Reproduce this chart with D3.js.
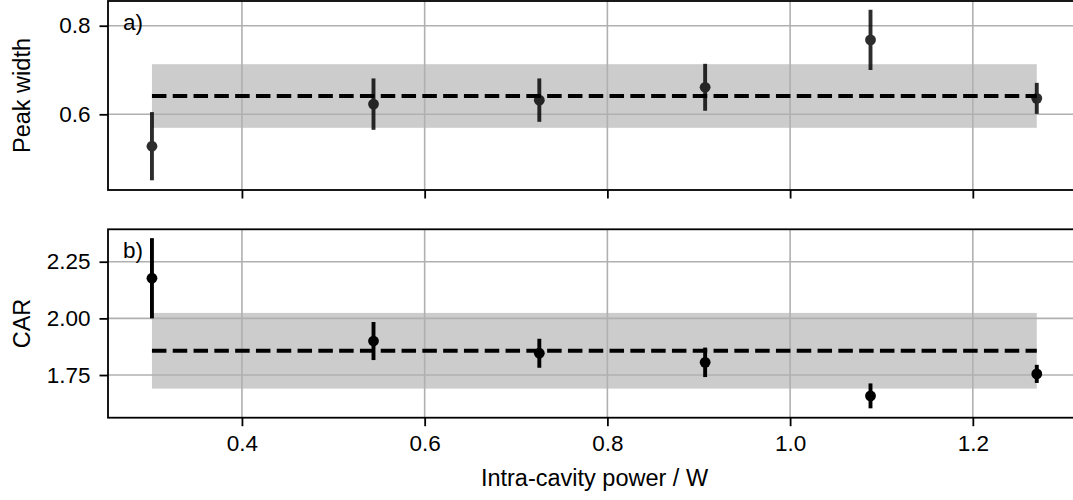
<!DOCTYPE html>
<html>
<head>
<meta charset="utf-8">
<script src="https://cdn.jsdelivr.net/npm/d3@7"></script>
<style>
  html, body { margin: 0; padding: 0; background: #fff; }
  svg { display: block; font-family: "Liberation Sans", Arial, Helvetica, sans-serif; }
</style>
</head>
<body>
<svg id="chart" width="1073" height="500"></svg>
<script>
// Measured intra-cavity power (W) for each run
const power = [0.3015, 0.544, 0.7255, 0.907, 1.088, 1.27];

// Panel a): fitted peak width with uncertainty
const peakWidth = [0.528, 0.623, 0.632, 0.661, 0.768, 0.636];
const peakWidthErr = [0.077, 0.058, 0.049, 0.053, 0.068, 0.035];
const peakWidthMean = 0.6413;
const peakWidthSpread = 0.0718;

// Panel b): coincidence-to-accidental ratio with uncertainty
const car = [2.177, 1.900, 1.846, 1.806, 1.658, 1.755];
const carErr = [0.177, 0.084, 0.064, 0.065, 0.055, 0.040];
const carMean = 1.857;
const carSpread = 0.167;

// Axis ticks and labels
const xTicks = [0.4, 0.6, 0.8, 1.0, 1.2];
const peakTicks = [0.6, 0.8];
const carTicks = [1.75, 2.00, 2.25];
const xLabel = "Intra-cavity power / W";

const svg = d3.select("#chart");
const left = 108, right = 1081;

const x = d3.scaleLinear().domain([0.2534, 1.3184]).range([left, right]);

const panels = [
  {
    top: 1, bottom: 190, domain: [0.4291, 0.8558],
    values: peakWidth, errs: peakWidthErr, mean: peakWidthMean, spread: peakWidthSpread,
    ticks: peakTicks, fmt: d3.format(".1f"), ylabel: "Peak width", tag: "a)",
    color: "#000", opacity: 0.82, xLabels: false
  },
  {
    top: 229.3, bottom: 417.7, domain: [1.5617, 2.393],
    values: car, errs: carErr, mean: carMean, spread: carSpread,
    ticks: carTicks, fmt: d3.format(".2f"), ylabel: "CAR", tag: "b)",
    color: "#000", opacity: 1, xLabels: true
  }
];

const fontSize = 22.5;

panels.forEach(p => {
  const y = d3.scaleLinear().domain(p.domain).range([p.bottom, p.top]);
  const g = svg.append("g");

  // spread band around the mean
  g.append("rect")
    .attr("x", x(power[0]))
    .attr("width", x(power[power.length - 1]) - x(power[0]))
    .attr("y", y(p.mean + p.spread))
    .attr("height", y(p.mean - p.spread) - y(p.mean + p.spread))
    .attr("fill", "#cccccc");

  // grid
  g.selectAll(".vgrid").data(xTicks).join("line")
    .attr("x1", d => x(d)).attr("x2", d => x(d))
    .attr("y1", p.top).attr("y2", p.bottom)
    .attr("stroke", "#b0b0b0").attr("stroke-width", 1.6);
  g.selectAll(".hgrid").data(p.ticks).join("line")
    .attr("x1", left).attr("x2", right)
    .attr("y1", d => y(d)).attr("y2", d => y(d))
    .attr("stroke", "#b0b0b0").attr("stroke-width", 1.6);

  // mean line
  g.append("line")
    .attr("x1", x(power[0])).attr("x2", x(power[power.length - 1]))
    .attr("y1", y(p.mean)).attr("y2", y(p.mean))
    .attr("stroke", "#000").attr("stroke-width", 3.9)
    .attr("stroke-dasharray", "14.5 6.3");

  // error bars and points
  const pts = g.append("g").attr("opacity", p.opacity);
  pts.selectAll(".err").data(power).join("line")
    .attr("x1", d => x(d)).attr("x2", d => x(d))
    .attr("y1", (d, i) => y(p.values[i] + p.errs[i]))
    .attr("y2", (d, i) => y(p.values[i] - p.errs[i]))
    .attr("stroke", p.color).attr("stroke-width", 3.9);
  pts.selectAll(".pt").data(power).join("circle")
    .attr("cx", d => x(d))
    .attr("cy", (d, i) => y(p.values[i]))
    .attr("r", 5.4)
    .attr("fill", p.color);

  // y axis
  const yAxis = g.append("g")
    .attr("transform", `translate(${left},0)`)
    .call(d3.axisLeft(y).tickValues(p.ticks).tickFormat(p.fmt).tickSize(8.5).tickPadding(9));
  yAxis.select(".domain").remove();
  yAxis.selectAll(".tick line").attr("stroke", "#000").attr("stroke-width", 1.8);
  yAxis.selectAll(".tick text")
    .attr("font-size", fontSize).attr("fill", "#000")
    .attr("font-family", "Liberation Sans, Arial, sans-serif");

  // x axis
  const xAxis = g.append("g")
    .attr("transform", `translate(0,${p.bottom})`)
    .call(d3.axisBottom(x).tickValues(xTicks).tickFormat(p.xLabels ? d3.format(".1f") : "")
      .tickSize(8.5).tickPadding(9));
  xAxis.select(".domain").remove();
  xAxis.selectAll(".tick line").attr("stroke", "#000").attr("stroke-width", 1.8);
  xAxis.selectAll(".tick text")
    .attr("font-size", fontSize).attr("fill", "#000")
    .attr("font-family", "Liberation Sans, Arial, sans-serif");

  // frame
  g.append("rect")
    .attr("x", left).attr("y", p.top)
    .attr("width", right - left).attr("height", p.bottom - p.top)
    .attr("fill", "none").attr("stroke", "#000").attr("stroke-width", 1.8);

  // panel tag
  g.append("text")
    .attr("x", left + 15).attr("y", p.top + 29)
    .attr("font-size", fontSize).attr("fill", "#000")
    .text(p.tag);

  // y label
  g.append("text")
    .attr("transform", `translate(30,${(p.top + p.bottom) / 2}) rotate(-90)`)
    .attr("text-anchor", "middle")
    .attr("font-size", 23.5).attr("fill", "#000")
    .text(p.ylabel);
});

svg.append("text")
  .attr("x", (left + right) / 2).attr("y", 486)
  .attr("text-anchor", "middle")
  .attr("font-size", 23.5).attr("fill", "#000")
  .text(xLabel);
</script>
</body>
</html>
